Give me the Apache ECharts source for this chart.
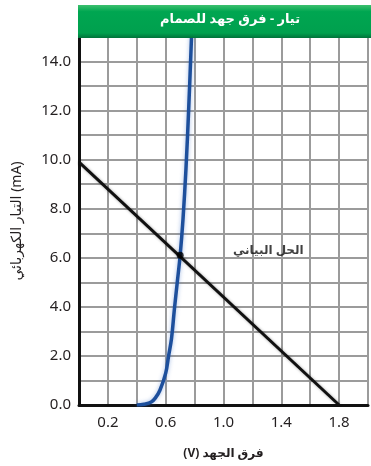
<!DOCTYPE html>
<html>
<head>
<meta charset="utf-8">
<script src="https://cdn.jsdelivr.net/npm/echarts@6/dist/echarts.min.js"></script>
<style>
  html, body { margin: 0; padding: 0; background: #fff; }
  #mainChart { width: 371px; height: 466px; }
</style>
</head>
<body>
<div id="mainChart"></div>
<script>
// منحنى التيار - الجهد للصمام الثنائي
var diodeCurve = [
    [0.40, 0], [0.45, 0.03], [0.50, 0.12], [0.53, 0.3], [0.56, 0.6],
    [0.60, 1.3], [0.62, 2.0], [0.64, 2.7], [0.66, 3.9], [0.68, 5.0],
    [0.70, 6.1], [0.72, 7.6], [0.74, 9.6], [0.76, 12.2], [0.78, 15.2]
];
// خط الحمل
var loadLine = [[0, 9.9], [1.8, 0]];
// نقطة الحل
var solution = [[0.7, 6.1]];
var solutionText = 'الحل البياني';
var labelAt = [1.31, 6.3];

var titleText = 'تيار - فرق جهد للصمام';
var xName = '(V) فرق الجهد';
var yName = 'التيار الكهربائي (mA)';

var font = '"Noto Sans", "DejaVu Sans", sans-serif';

var myChart = echarts.init(document.getElementById('mainChart'), null, { renderer: 'canvas' });

var option = {
    animation: false,
    backgroundColor: '#fff',
    textStyle: { fontFamily: font },
    graphic: [{
        type: 'rect',
        left: 78, top: 5,
        shape: { width: 300, height: 33 },
        style: {
            fill: new echarts.graphic.LinearGradient(0, 0, 0, 1, [
                { offset: 0, color: '#3cc06e' },
                { offset: 0.2, color: '#00a651' },
                { offset: 0.85, color: '#00a04e' },
                { offset: 1, color: '#00733a' }
            ])
        },
        z: 10
    }, {
        type: 'text',
        left: 160, top: 13,
        style: {
            text: titleText,
            fill: '#fff',
            font: 'bold 13px ' + font
        },
        z: 11
    }],
    grid: {
        left: 79,
        top: 37,
        width: 294,
        height: 368
    },
    xAxis: {
        type: 'value',
        min: 0,
        max: 2.0,
        interval: 0.2,
        name: xName,
        nameLocation: 'middle',
        nameGap: 43,
        nameTextStyle: { color: '#231f20', fontSize: 12, fontWeight: 'bold', fontFamily: font },
        axisLine: { show: true, lineStyle: { color: '#111', width: 3 } },
        axisTick: { show: false },
        splitLine: { show: true, lineStyle: { color: '#9b9b9b', width: 2 } },
        axisLabel: {
            color: '#231f20', fontSize: 15, margin: 10, fontFamily: font,
            formatter: function (v) {
                var k = Math.round(v * 10);
                return (k % 4 === 2) ? v.toFixed(1) : '';
            }
        }
    },
    yAxis: {
        type: 'value',
        min: 0,
        max: 15,
        interval: 1,
        name: yName,
        nameLocation: 'middle',
        nameRotate: 90,
        nameGap: 55,
        nameTextStyle: { color: '#231f20', fontSize: 14, fontFamily: font },
        axisLine: { show: true, lineStyle: { color: '#111', width: 3 } },
        axisTick: { show: false },
        splitLine: { show: true, lineStyle: { color: '#9b9b9b', width: 2 } },
        axisLabel: {
            color: '#231f20', fontSize: 15, margin: 8, fontFamily: font,
            formatter: function (v) {
                return (Math.round(v) % 2 === 0) ? v.toFixed(1) : '';
            }
        }
    },
    series: [{
        name: 'diode',
        type: 'line',
        data: diodeCurve,
        smooth: 0.4,
        showSymbol: false,
        clip: true,
        lineStyle: {
            color: '#1d4f9c', width: 3.5,
            shadowColor: 'rgba(60,110,200,0.45)', shadowBlur: 4
        },
        z: 3
    }, {
        name: 'load',
        type: 'line',
        data: loadLine,
        showSymbol: false,
        lineStyle: {
            color: '#111', width: 3,
            shadowColor: 'rgba(0,0,0,0.35)', shadowBlur: 3
        },
        z: 4
    }, {
        name: 'solution',
        type: 'scatter',
        data: solution,
        symbolSize: 7,
        itemStyle: { color: '#000' },
        z: 5
    }, {
        name: 'label',
        type: 'scatter',
        data: [labelAt],
        symbolSize: 0,
        label: {
            show: true,
            position: 'inside',
            formatter: solutionText,
            color: '#111',
            fontSize: 12,
            fontWeight: 'bold',
            fontFamily: font
        },
        z: 6
    }]
};

myChart.setOption(option);
</script>
</body>
</html>
